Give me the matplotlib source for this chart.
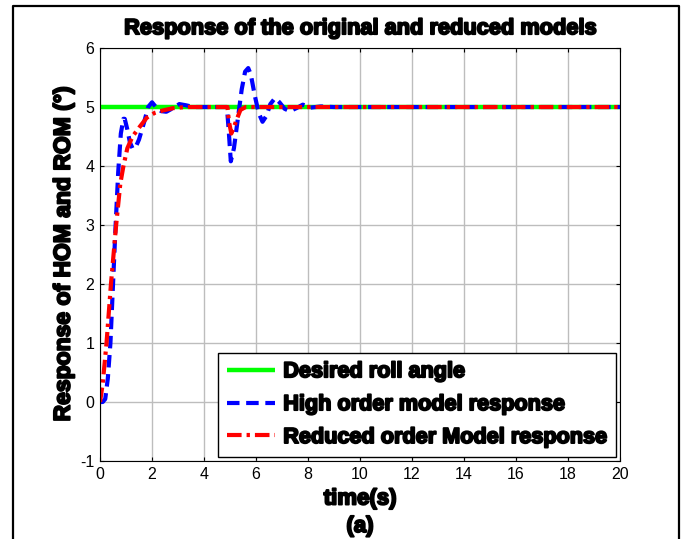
import numpy as np
import matplotlib
matplotlib.use("Agg")
import matplotlib.pyplot as plt
from matplotlib import patheffects as pe
from matplotlib.lines import Line2D

plt.rcParams["font.family"] = ["Liberation Sans", "DejaVu Sans"]
plt.rcParams["axes.unicode_minus"] = False

# desired roll angle (deg)
t_ref = [0, 20]
y_ref = [5, 5]

# high order model response
t_hom = [0, 0.1, 0.2, 0.3, 0.4, 0.5, 0.6, 0.7, 0.8, 0.9, 0.95, 1.05, 1.15, 1.25,
         1.35, 1.5, 1.7, 1.85, 2.0, 2.15, 2.35, 2.55, 2.8, 3.05, 3.3, 3.6, 4.0,
         4.5, 4.88, 4.95, 5.03, 5.15, 5.3, 5.45, 5.58, 5.7, 5.8, 5.95, 6.1,
         6.25, 6.4, 6.55, 6.73, 6.9, 7.1, 7.3, 7.55, 7.8, 8.1, 8.5, 9.0, 10,
         12, 15, 20]
y_hom = [0, 0.0, 0.05, 0.4, 1.0, 2.0, 3.0, 3.9, 4.55, 4.8, 4.8, 4.62, 4.4, 4.3,
         4.3, 4.45, 4.75, 5.0, 5.08, 5.0, 4.93, 4.92, 4.98, 5.05, 5.03, 5.0,
         5.0, 5.0, 5.0, 4.6, 4.08, 4.3, 4.8, 5.3, 5.6, 5.66, 5.55, 5.2, 4.9,
         4.75, 4.85, 5.05, 5.15, 5.08, 4.97, 4.93, 4.98, 5.04, 4.99, 5.01,
         5.0, 5.0, 5.0, 5.0, 5.0]

# reduced order model response
t_rom = [0, 0.1, 0.25, 0.42, 0.62, 0.78, 0.9, 1.05, 1.25, 1.5, 1.8, 2.1, 2.4,
         2.8, 3.3, 4.0, 4.9, 4.96, 5.05, 5.25, 5.4, 5.6, 6.5, 8, 10, 15, 20]
y_rom = [0, 0.3, 1.0, 2.0, 3.0, 3.7, 4.0, 4.3, 4.5, 4.65, 4.82, 4.9, 4.94,
         4.98, 5.0, 5.0, 5.0, 4.75, 4.55, 4.78, 4.95, 5.0, 5.0, 5.0, 5.0,
         5.0, 5.0]

xticks = np.arange(0, 21, 2)
yticks = np.arange(-1, 7, 1)

heavy = [pe.withStroke(linewidth=1.4, foreground="black")]

fig = plt.figure(figsize=(6.87, 5.39), dpi=100)
ax = fig.add_axes([0.1456, 0.1447, 0.7569, 0.7662])

ax.plot(t_ref, y_ref, color="#00ff00", lw=3.2, solid_capstyle="butt",
        label="Desired roll angle")
ax.plot(t_hom, y_hom, color="blue", lw=3.0, dashes=(3, 1.6),
        label="High order model response")
ax.plot(t_rom, y_rom, color="red", lw=3.0, dashes=(3.5, 1.2, 0.8, 1.2),
        label="Reduced order Model response")

ax.set_xlim(0, 20)
ax.set_ylim(-1, 6)
ax.set_xticks(xticks)
ax.set_yticks(yticks)
ax.grid(True, color="#bdbdbd", lw=1.0)
ax.set_axisbelow(True)
ax.tick_params(direction="in", top=True, right=True, length=3, width=0.8,
               labelsize=11.5, pad=4)
for s in ax.spines.values():
    s.set_linewidth(0.8)

ax.set_title("Response of the original and reduced models", fontsize=15.7,
             fontweight="bold", pad=10, path_effects=heavy)
ax.set_xlabel("time(s)", fontsize=16, fontweight="bold", labelpad=5,
              path_effects=heavy)
ax.set_ylabel("Response of HOM and ROM (°)", fontsize=16.5, fontweight="bold",
              labelpad=4, path_effects=heavy)

leg = ax.legend(loc="lower right", fontsize=15.6, frameon=True, fancybox=False,
                edgecolor="black", framealpha=1, handlelength=2.2,
                handletextpad=0.4, borderpad=0.4, labelspacing=0.55,
                borderaxespad=0.2)
leg.get_frame().set_linewidth(1.0)
for txt in leg.get_texts():
    txt.set_fontweight("bold")
    txt.set_path_effects(heavy)

fig.text(0.524, 2 / 539, "(a)", fontsize=16, fontweight="bold",
         ha="center", va="bottom", path_effects=heavy)

# outer panel frame (left, top, right)
x0, x1, ytop = 13 / 687, 679 / 687, 1 - 6 / 539
fig.add_artist(Line2D([x0, x0, x1, x1], [0, ytop, ytop, 0],
                      transform=fig.transFigure, color="black", lw=1.6))

fig.savefig("out.png", dpi=100)
